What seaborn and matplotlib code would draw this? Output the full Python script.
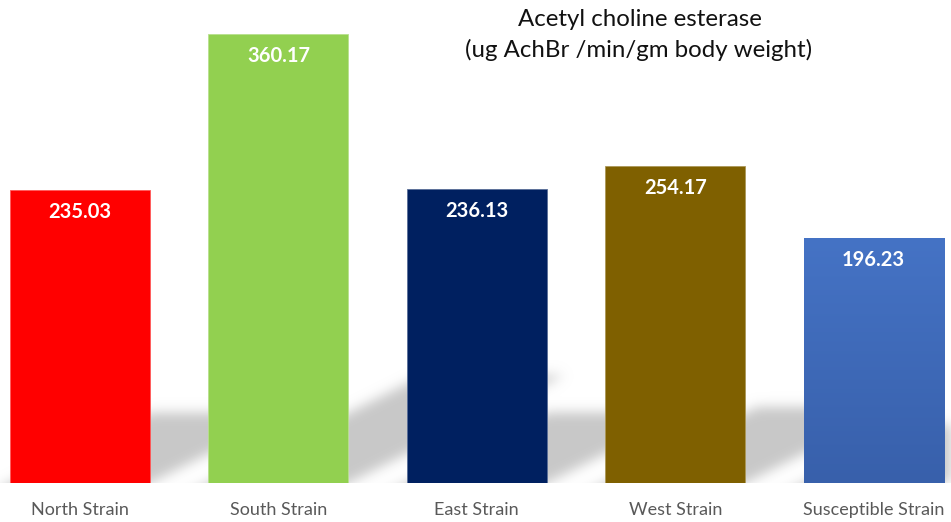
import numpy as np
import pandas as pd
import matplotlib
matplotlib.use("Agg")
import matplotlib.pyplot as plt
import seaborn as sns
from matplotlib.patches import Polygon
from matplotlib.collections import PatchCollection
from matplotlib.colors import to_rgb, LinearSegmentedColormap

# ---- data -------------------------------------------------------------
strains = ["North Strain", "South Strain", "East Strain", "West Strain",
           "Susceptible Strain"]
activity = [235.03, 360.17, 236.13, 254.17, 196.23]
bar_colors = ["#FF0000", "#92D050", "#002060", "#7F6000", "#4472C4"]
title_lines = ["Acetyl choline esterase", "(ug AchBr /min/gm body weight)"]

df = pd.DataFrame({"strain": strains, "activity": activity})

# ---- style ------------------------------------------------------------
sns.set_theme(style="white")
plt.rcParams["font.family"] = ["Lato", "DejaVu Sans"]

W, H = 951, 522
fig = plt.figure(figsize=(W / 100, H / 100), dpi=100)
ax = fig.add_axes([0, 39 / H, 1, 483 / H])

sns.barplot(data=df, x="strain", y="activity", hue="strain",
            palette=bar_colors, width=0.706, saturation=1, legend=False,
            ax=ax, zorder=2)

ax.set_xlim(-0.403, 4.390)
ax.set_ylim(0, 387.5)
ax.set_xlabel("")
ax.set_ylabel("")
ax.set_yticks([])
sns.despine(ax=ax, left=True, bottom=True)
ax.tick_params(axis="x", length=0, pad=14, labelsize=13,
               labelcolor="#595959")


# ---- soft cast shadow behind the bars ---------------------------------
class SoftShadow:
    """Agg filter: gaussian-blur the alpha and cut the part below the floor."""

    def __init__(self, sigma, cut_px, rgb):
        self.sigma = sigma
        self.cut_px = cut_px
        self.rgb = rgb

    def __call__(self, im, dpi):
        s = self.sigma * dpi / 100.0
        r = int(np.ceil(3 * s))
        xs = np.arange(-r, r + 1)
        k = np.exp(-0.5 * (xs / s) ** 2)
        k /= k.sum()
        a = np.pad(im[..., 3], ((r, r), (r, r)))
        a = np.apply_along_axis(lambda m: np.convolve(m, k, mode="same"), 0, a)
        a = np.apply_along_axis(lambda m: np.convolve(m, k, mode="same"), 1, a)
        cut = r + int(round(self.cut_px * dpi / 100.0))
        a[-cut:, :] = 0
        out = np.zeros(a.shape + (4,))
        out[..., :3] = self.rgb
        out[..., 3] = a
        return out, -r, -r


px_x = ax.transData.transform((1, 0))[0] - ax.transData.transform((0, 0))[0]
px_y = ax.transData.transform((0, 1))[1] - ax.transData.transform((0, 0))[1]

shadow_ratio = 0.24   # shadow length relative to bar height
slant = 2.0           # horizontal run per unit of shadow rise (pixels)
ext_px = 18           # extension below the floor, removed by the filter

bars = list(ax.patches)
shadows = []
for bar in bars:
    x0, w, h = bar.get_x(), bar.get_width(), bar.get_height()
    rise = shadow_ratio * h
    dx = slant * rise * px_y / px_x
    ext_dy = ext_px / px_y
    ext_dx = slant * ext_px / px_x
    shadows.append(Polygon([(x0 - ext_dx, -ext_dy), (x0 + w - ext_dx, -ext_dy),
                            (x0 + w + dx, rise), (x0 + dx, rise)],
                           closed=True))

shadow_rgb = to_rgb("#c8c8c8")
pc = PatchCollection(shadows, facecolor=shadow_rgb, edgecolor="none",
                     zorder=1, clip_on=False)
pc.set_agg_filter(SoftShadow(sigma=6, cut_px=ext_px, rgb=shadow_rgb))
pc.set_rasterized(True)
ax.add_collection(pc)

# ---- bar edges and the shaded blue bar --------------------------------
for bar, c in zip(bars, bar_colors):
    rgb = np.array(to_rgb(c))
    bar.set_edgecolor(tuple(rgb + (1 - rgb) * 0.35))
    bar.set_linewidth(0.6)

blue_bar = bars[-1]
grad = LinearSegmentedColormap.from_list("blue_shade", ["#3860AB", "#4573C5"])
bx, bw, bh = blue_bar.get_x(), blue_bar.get_width(), blue_bar.get_height()
img = ax.imshow(np.linspace(0, 1, 256).reshape(-1, 1), cmap=grad,
                extent=(bx, bx + bw, 0, bh), origin="lower", aspect="auto",
                zorder=2.5, interpolation="bilinear")
img.set_clip_path(blue_bar)
ax.set_xlim(-0.403, 4.390)
ax.set_ylim(0, 387.5)

# ---- value labels ------------------------------------------------------
for i, v in enumerate(activity):
    ax.annotate(f"{v:.2f}", (i, v), xytext=(0, -22 * 0.72),
                textcoords="offset points", ha="center", va="center",
                color="white", fontweight="bold", fontsize=14.5, zorder=4)

# ---- title ---------------------------------------------------------------
fig.text(640 / W, 1 - 20 / H, title_lines[0], ha="center", va="center",
         fontsize=17.3, color="#111111")
fig.text(639 / W, 1 - 50 / H, title_lines[1], ha="center", va="center",
         fontsize=17.3, color="#111111")

fig.savefig("out.png", dpi=100, facecolor="white")
